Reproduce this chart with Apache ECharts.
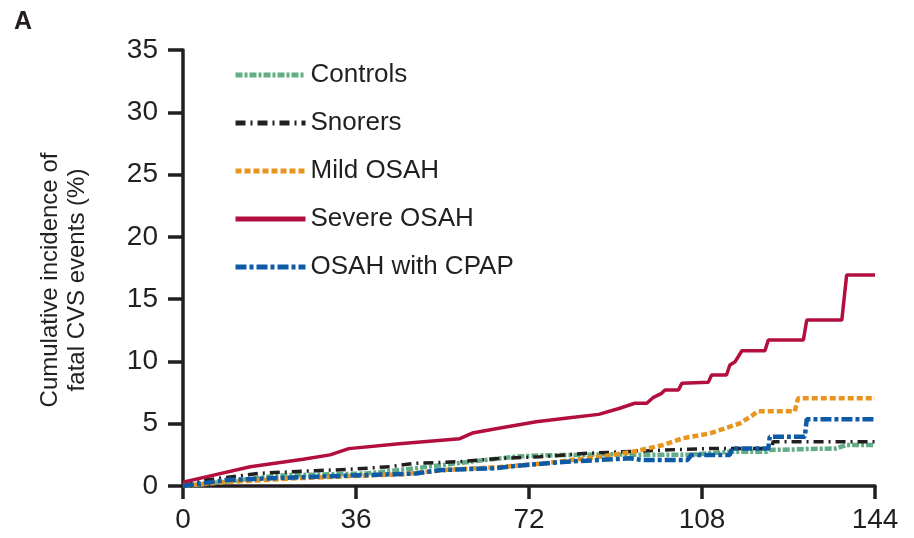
<!DOCTYPE html>
<html>
<head>
<meta charset="utf-8">
<script src="https://cdn.jsdelivr.net/npm/echarts@6/dist/echarts.min.js"></script>
<style>
  html, body { margin: 0; padding: 0; background: #ffffff; }
  #chart { width: 914px; height: 538px; }
</style>
</head>
<body>
<div id="chart"></div>
<script>
// Follow-up time in months; cumulative incidence in percent.
const xTicks = [0, 36, 72, 108, 144];
const yTicks = [0, 5, 10, 15, 20, 25, 30, 35];

const seriesNames = ['Controls', 'Snorers', 'Mild OSAH', 'Severe OSAH', 'OSAH with CPAP'];

// [month, cumulative incidence %]
const controls = [
  [0, 0], [8, 0.3], [20, 0.85], [38, 1.0], [50, 1.5], [62, 2.05], [69, 2.35],
  [74, 2.45], [89, 2.55], [93, 2.5], [105, 2.5], [113.8, 2.75], [121.5, 2.75],
  [122, 2.89], [136, 3.02], [138, 3.3], [144, 3.3]
];
const snorers = [
  [0, 0], [5, 0.5], [16, 1.02], [27.7, 1.23], [34.7, 1.34], [43, 1.55], [48, 1.82],
  [57.6, 1.95], [66, 2.22], [74.3, 2.35], [84, 2.62], [100, 2.89], [110.3, 3.02],
  [122.5, 3.02], [122.8, 3.56], [144, 3.56]
];
const mildOSAH = [
  [0, 0], [8, 0.3], [23.5, 0.62], [31.8, 0.75], [45.8, 0.95], [55, 1.3], [65, 1.5],
  [76, 1.85], [86.8, 2.35], [93.6, 2.75], [99.9, 3.29], [104, 3.83], [109.7, 4.23],
  [115.9, 5.03], [118.6, 5.7], [119.6, 6.0], [127.3, 6.0], [128, 7.04], [144, 7.04]
];
const severeOSAH = [
  [0, 0.3], [5, 0.75], [14, 1.55], [25, 2.15], [30.6, 2.5], [34.5, 3.0], [45, 3.4],
  [57.6, 3.8], [60.2, 4.25], [66, 4.65], [73.5, 5.15], [80, 5.45], [86.5, 5.75],
  [90.9, 6.24], [94, 6.64], [96.5, 6.64], [97.8, 7.09], [99.6, 7.44], [100.3, 7.71],
  [103.1, 7.71], [103.8, 8.24], [109.3, 8.32], [110, 8.91], [113.1, 8.91],
  [113.8, 9.71], [114.9, 9.98], [116.3, 10.86], [121.1, 10.86], [121.8, 11.72],
  [129.1, 11.72], [129.8, 13.33], [137.1, 13.33], [138.1, 16.94], [144, 16.94]
];
const osahCPAP = [
  [0, 0], [9, 0.48], [27.7, 0.75], [48.5, 1.0], [53.5, 1.28], [64.5, 1.42],
  [71.5, 1.69], [79.8, 1.95], [86.8, 2.09], [93, 2.22], [95.7, 2.09], [105, 2.09],
  [105.8, 2.49], [113.8, 2.49], [114.2, 3.02], [121.8, 3.02], [122.1, 3.96],
  [129.4, 3.96], [129.8, 5.35], [144, 5.35]
];

const ink = '#231f20';
const font = '"Liberation Sans", Arial, sans-serif';

function lineSeries(name, data, color, width, dash) {
  return {
    name: name,
    type: 'line',
    data: data,
    showSymbol: false,
    symbol: 'none',
    animation: false,
    lineStyle: { color: color, width: width, type: dash, cap: 'butt' },
    itemStyle: { color: color }
  };
}

const chart = echarts.init(document.getElementById('chart'), null, { renderer: 'canvas' });

chart.setOption({
  backgroundColor: '#ffffff',
  animation: false,
  title: {
    text: 'A',
    left: 9,
    top: 5,
    textStyle: { fontFamily: font, fontSize: 25, fontWeight: 'bold', color: ink }
  },
  grid: { left: 183, right: 39, top: 50, bottom: 52, containLabel: false },
  legend: {
    data: seriesNames,
    orient: 'vertical',
    left: 228,
    top: 57,
    itemWidth: 70,
    itemHeight: 14,
    itemGap: 22,
    itemStyle: { opacity: 0 },
    lineStyle: { width: 5 },
    textStyle: { fontFamily: font, fontSize: 26, color: ink, padding: [0, 0, 0, 0], lineHeight: 26 }
  },
  xAxis: {
    type: 'value',
    min: 0,
    max: 144,
    interval: 36,
    axisLine: { show: true, lineStyle: { color: ink, width: 3.5 } },
    axisTick: { show: true, length: 13, lineStyle: { color: ink, width: 3.5 } },
    axisLabel: {
      margin: 20,
      fontFamily: font,
      fontSize: 28,
      color: ink,
      formatter: v => (xTicks.includes(v) ? String(v) : '')
    },
    splitLine: { show: false }
  },
  yAxis: {
    type: 'value',
    min: 0,
    max: 35,
    interval: 5,
    name: 'Cumulative incidence of\nfatal CVS events (%)',
    nameLocation: 'middle',
    nameRotate: 90,
    nameGap: 92,
    nameTextStyle: { fontFamily: font, fontSize: 24, color: ink, lineHeight: 27, padding: [0, 24, 0, 0] },
    axisLine: { show: true, lineStyle: { color: ink, width: 3.5 } },
    axisTick: { show: true, length: 15, lineStyle: { color: ink, width: 3.5 } },
    axisLabel: {
      margin: 25,
      fontFamily: font,
      fontSize: 28,
      color: ink,
      formatter: v => (yTicks.includes(v) ? String(v) : '')
    },
    splitLine: { show: false }
  },
  series: [
    lineSeries('Controls', controls, '#62ad85', 4.5, [7, 2, 3, 2]),
    lineSeries('Snorers', snorers, ink, 3.5, [10, 5, 2, 5]),
    lineSeries('Mild OSAH', mildOSAH, '#e8951f', 4.5, [6, 3]),
    lineSeries('Severe OSAH', severeOSAH, '#b30f3e', 3.5, 'solid'),
    lineSeries('OSAH with CPAP', osahCPAP, '#0d5ba6', 4.5, [11, 3, 4, 3])
  ]
});
</script>
</body>
</html>
